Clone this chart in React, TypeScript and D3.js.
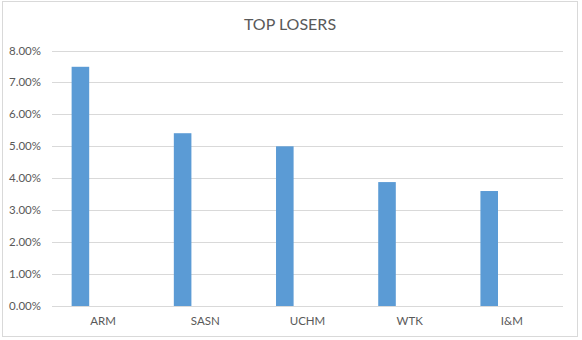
import React from "react";
import * as d3 from "d3";

const categories: string[] = ["ARM", "SASN", "UCHM", "WTK", "I&M"];
const losses: number[] = [0.0749, 0.0541, 0.05, 0.0388, 0.036];
const yTicks: number[] = [0, 0.01, 0.02, 0.03, 0.04, 0.05, 0.06, 0.07, 0.08];
const title = "TOP LOSERS";

export default function App() {
  const W = 582;
  const H = 340;
  const left = 52;
  const right = 563;
  const top = 50.5;
  const bottom = 306;
  const x = d3.scaleBand<string>().domain(categories).range([left, right]).padding(0);
  const y = d3.scaleLinear().domain([0, 0.08]).range([bottom, top]);
  const bw = x.bandwidth();
  const fmt = d3.format(".2%");
  const font = "Lato, 'Open Sans', sans-serif";
  return (
    <svg width={W} height={H} style={{ position: "absolute", left: 0, top: 0 }}>
      <rect x={0} y={0} width={W} height={H} fill="#fff" />
      <rect x={2.5} y={1.5} width={575} height={335} fill="#fff" stroke="#d9d9d9" strokeWidth={1} />
      <text x={290} y={29.5} textAnchor="middle" fontFamily={font} fontSize={16} fill="#595959">
        {title}
      </text>
      {yTicks.map((t) => (
        <g key={t}>
          <line x1={left} x2={right} y1={Math.round(y(t)) + 0.5} y2={Math.round(y(t)) + 0.5} stroke="#d9d9d9" strokeWidth={1} />
          <text x={41} y={y(t)} dy="0.35em" textAnchor="end" fontFamily={font} fontSize={11.5} fill="#595959">
            {fmt(t)}
          </text>
        </g>
      ))}
      {categories.map((c, i) => (
        <g key={c}>
          <rect
            x={(x(c) as number) + bw * 0.192}
            width={bw * 0.172}
            y={y(losses[i])}
            height={bottom - y(losses[i])}
            fill="#5B9BD5"
          />
          <text x={(x(c) as number) + bw / 2} y={325} textAnchor="middle" fontFamily={font} fontSize={11.5} fill="#595959">
            {c}
          </text>
        </g>
      ))}
    </svg>
  );
}
